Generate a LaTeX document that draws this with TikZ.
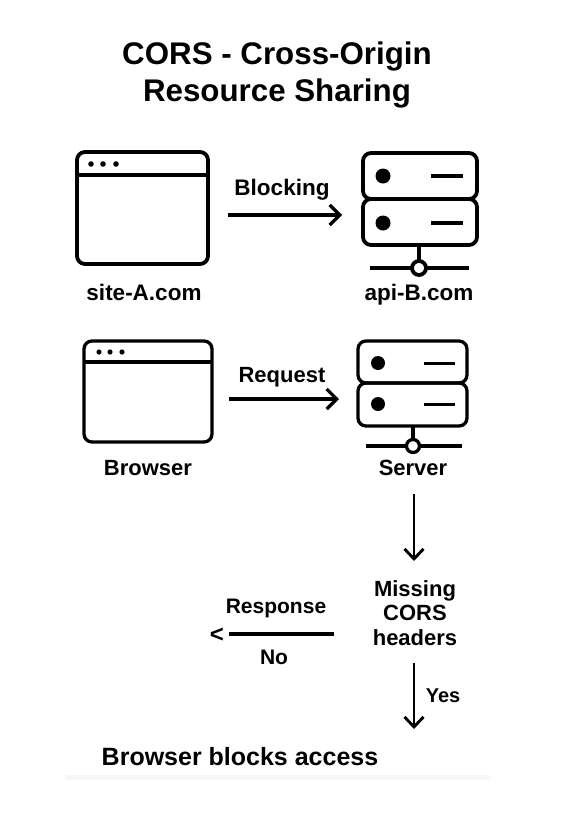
\documentclass[tikz,border=0pt]{standalone}
\usepackage{fontspec}
\setmainfont{Liberation Sans}
\usetikzlibrary{positioning,arrows.meta}
\tikzset{
  icon/.style={line width=3.8pt, rounded corners=8pt},
  iconb/.style={line width=3.3pt, rounded corners=8pt},
  flow/.style={line width=3.2pt, -{Straight Barb[length=10pt, width=20pt, line width=3.2pt]}},
  flowdown/.style={line width=2.9pt, -{Straight Barb[length=10pt, width=19pt, line width=2.9pt]}},
  lbl/.style={font=\fontsize{#1}{24.5}\selectfont\bfseries, anchor=base, inner sep=0pt, align=center},
  lbl/.default=22,
  ttl/.style={font=\fontsize{31.3}{37}\selectfont\bfseries, anchor=base, inner sep=0pt},
}
\begin{document}
\begin{tikzpicture}[x=1pt, y=-1pt]
\useasboundingbox (0,0) rectangle (587,830);
\fill[black!3] (65,775) rectangle (491,780);
% title
\node[ttl] (title1) at (277,64) {CORS - Cross-Origin};
\node[ttl] (title2) at (277,101) {Resource Sharing};
% first row, browser window
\draw[icon] (77,152) rectangle (208,264);
\draw[line width=3.8pt] (77,175) -- (208,175);
\foreach \x in {91,103,116} \fill (\x,164) circle (2.8pt);
\node[lbl=22.5] (siteA) at (144,300) {site-A.com};
% first row, server
\draw[icon] (363,153) rectangle (477,199);
\draw[icon] (363,199) rectangle (477,245);
\foreach \y in {176,223} {
  \fill (383,\y) circle (7.5pt);
  \draw[line width=3.5pt] (431,\y) -- (463,\y);
}
\draw[line width=3.8pt] (419,245) -- (419,268);
\draw[line width=3.8pt] (370,268) -- (469,268);
\draw[line width=3.8pt, fill=white] (419,268) circle (7pt);
\node[lbl=22.5] (apiB) at (419,300) {api-B.com};
\coordinate (blockfrom) at (228,215);
\coordinate (blockto) at (342,215);
\draw[flow] (blockfrom) -- (blockto);
\node[lbl=22.5] (blocking) at (282,195) {Blocking};
% second row, browser window
\draw[iconb] (84,341) rectangle (212,442);
\draw[line width=3.3pt] (84,362) -- (212,362);
\foreach \x in {99,110,122} \fill (\x,352) circle (2.6pt);
\node[lbl] (browser) at (148,475) {Browser};
% second row, server
\draw[iconb] (358,341) rectangle (467,383);
\draw[iconb] (358,383) rectangle (467,426);
\foreach \y in {363,404} {
  \fill (378,\y) circle (7pt);
  \draw[line width=3pt] (424,\y) -- (455,\y);
}
\draw[line width=3.3pt] (413,426) -- (413,446);
\draw[line width=4pt] (366,446) -- (462,446);
\draw[line width=3.3pt, fill=white] (413,446) circle (6.5pt);
\node[lbl] (server) at (413,475) {Server};
\coordinate (reqfrom) at (229,399);
\coordinate (reqto) at (339,399);
\draw[flow] (reqfrom) -- (reqto);
\node[lbl] (request) at (282,382) {Request};
% the check
\coordinate (checkfrom) at (414,494);
\coordinate (checkto) at (414,561);
\draw[flowdown] (checkfrom) -- (checkto);
\node[lbl, anchor=center] (missing) at (415,613) {Missing\\CORS\\headers};
\coordinate (yesfrom) at (414,663);
\coordinate (yesto) at (414,729);
\draw[flowdown] (yesfrom) -- (yesto);
\node[lbl=20] (yes) at (443,702) {Yes};
% no branch
\coordinate (nofrom) at (334,634);
\coordinate (noto) at (229,634);
\draw[line width=3.5pt] (nofrom) -- (noto);
\node[lbl=24] (lt) at (217,642) {<};
\node[lbl=21] (response) at (276,613) {Response};
\node[lbl=21] (no) at (274,664) {No};
\node[lbl=25] (blocks) at (240,765) {Browser blocks access};
\end{tikzpicture}
\end{document}
